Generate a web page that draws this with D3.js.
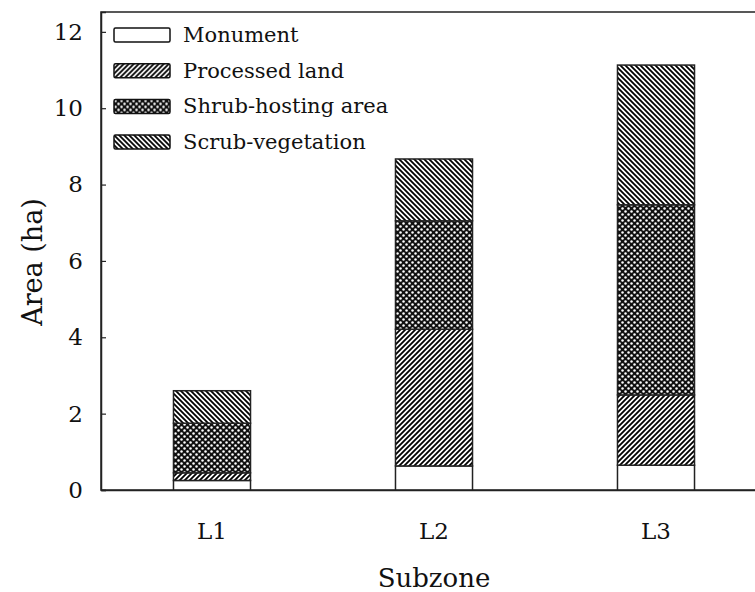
<!DOCTYPE html>
<html>
<head>
<meta charset="utf-8">
<script src="https://cdn.jsdelivr.net/npm/d3@7"></script>
<style>
  html, body { margin: 0; padding: 0; background: #fff; }
  svg { display: block; }
  text { font-family: "DejaVu Serif", serif; fill: #111; }
</style>
</head>
<body>
<svg id="chart" width="755" height="592"></svg>
<script>
// ---- data ----
const categories = ["L1", "L2", "L3"];
const seriesNames = ["Monument", "Processed land", "Shrub-hosting area", "Scrub-vegetation"];
const monument = [0.25, 0.63, 0.65];
const processedLand = [0.20, 3.58, 1.84];
const shrubHosting = [1.30, 2.84, 4.98];
const scrubVegetation = [0.85, 1.62, 3.66];
const yTicks = [0, 2, 4, 6, 8, 10, 12];
const xTitle = "Subzone";
const yTitle = "Area (ha)";

// build table
const table = categories.map((c, i) => ({
  cat: c,
  "Monument": monument[i],
  "Processed land": processedLand[i],
  "Shrub-hosting area": shrubHosting[i],
  "Scrub-vegetation": scrubVegetation[i]
}));
const stacked = d3.stack().keys(seriesNames)(table);

const svg = d3.select("#chart");
const mLeft = 101, mRight = 767, mTop = 12, mBottom = 490;

// patterns
const defs = svg.append("defs");
const P = 5;
const pUp = defs.append("pattern").attr("id", "pUp").attr("patternUnits", "userSpaceOnUse")
  .attr("width", P).attr("height", P);
pUp.append("rect").attr("width", P).attr("height", P).attr("fill", "#fff");
pUp.append("path").attr("d", `M-1,1 l2,-2 M0,${P} l${P},-${P} M${P-1},${P+1} l2,-2`)
  .attr("stroke", "#000").attr("stroke-width", 1.8);

const pDown = defs.append("pattern").attr("id", "pDown").attr("patternUnits", "userSpaceOnUse")
  .attr("width", P).attr("height", P);
pDown.append("rect").attr("width", P).attr("height", P).attr("fill", "#fff");
pDown.append("path").attr("d", `M-1,${P-1} l2,2 M0,0 l${P},${P} M${P-1},-1 l2,2`)
  .attr("stroke", "#000").attr("stroke-width", 1.8);

const pCross = defs.append("pattern").attr("id", "pCross").attr("patternUnits", "userSpaceOnUse")
  .attr("width", 6).attr("height", 6);
pCross.append("rect").attr("width", 6).attr("height", 6).attr("fill", "#111");
pCross.append("circle").attr("cx", 1.5).attr("cy", 1.5).attr("r", 1.25).attr("fill", "#fff");
pCross.append("circle").attr("cx", 4.5).attr("cy", 4.5).attr("r", 1.25).attr("fill", "#fff");

const fills = {
  "Monument": "#fff",
  "Processed land": "url(#pUp)",
  "Shrub-hosting area": "url(#pCross)",
  "Scrub-vegetation": "url(#pDown)"
};

// scales
const y = d3.scaleLinear().domain([0, 12.52]).range([mBottom, mTop]);
const x = d3.scaleBand().domain(categories).range([mLeft, mRight])
  .paddingInner(0.653).paddingOuter(0.3265);

// frame
svg.append("rect").attr("x", mLeft).attr("y", mTop)
  .attr("width", mRight - mLeft).attr("height", mBottom - mTop)
  .attr("fill", "none").attr("stroke", "#222").attr("stroke-width", 1.5);

// bars
svg.append("g").selectAll("g").data(stacked).join("g")
  .attr("fill", d => fills[d.key])
  .selectAll("rect").data(d => d).join("rect")
  .attr("x", d => x(d.data.cat))
  .attr("width", x.bandwidth())
  .attr("y", d => y(d[1]))
  .attr("height", d => y(d[0]) - y(d[1]))
  .attr("stroke", "#222").attr("stroke-width", 1.5);

// y axis
const yAxis = svg.append("g").attr("transform", `translate(${mLeft},0)`)
  .call(d3.axisLeft(y).tickValues(yTicks).tickSize(-5).tickPadding(18).tickFormat(d3.format("d")));
yAxis.select(".domain").attr("stroke", "#222").attr("stroke-width", 1.5);
yAxis.selectAll(".tick line").attr("stroke", "#222").attr("stroke-width", 1.2);
yAxis.selectAll(".tick text").attr("font-size", 23).attr("font-family", "DejaVu Serif").attr("fill", "#111");

// x axis
const xAxis = svg.append("g").attr("transform", `translate(0,${mBottom})`)
  .call(d3.axisBottom(x).tickSize(0).tickPadding(33));
xAxis.select(".domain").attr("stroke", "#222").attr("stroke-width", 1.5);
xAxis.selectAll(".tick text").attr("font-size", 23).attr("font-family", "DejaVu Serif").attr("fill", "#111");

// titles
svg.append("text").attr("x", x("L2") + x.bandwidth() / 2).attr("y", 587)
  .attr("text-anchor", "middle").attr("font-size", 26).text(xTitle);
svg.append("text").attr("transform", "translate(42,262) rotate(-90)")
  .attr("text-anchor", "middle").attr("font-size", 27).text(yTitle);

// legend
const legend = svg.append("g").selectAll("g").data(seriesNames).join("g")
  .attr("transform", (d, i) => `translate(114,${28 + i * 35.7})`);
legend.append("rect").attr("width", 56).attr("height", 14).attr("rx", 1.5)
  .attr("fill", d => fills[d]).attr("stroke", "#111").attr("stroke-width", 1.5);
legend.append("text").attr("x", 69).attr("y", 14).attr("font-size", 21).text(d => d);
</script>
</body>
</html>
